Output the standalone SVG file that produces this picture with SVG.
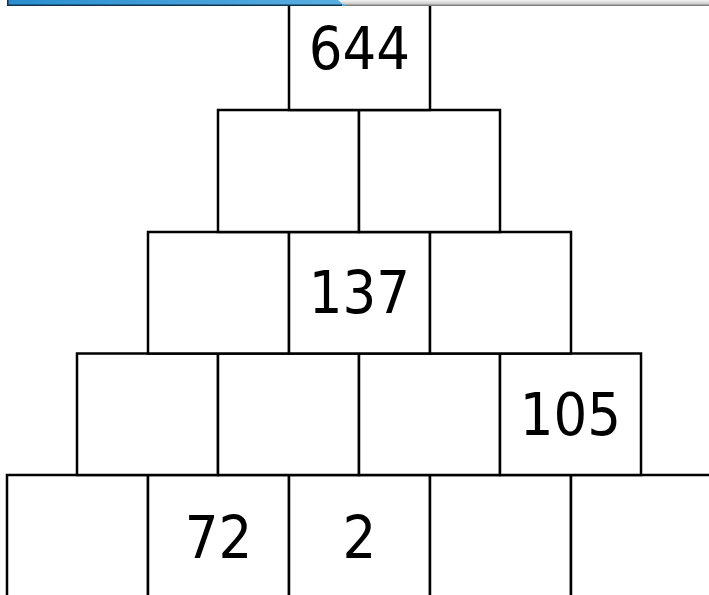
<svg xmlns="http://www.w3.org/2000/svg" width="709" height="595" viewBox="0 0 709 595">
<defs>
<linearGradient id="blue" x1="0" y1="0" x2="1" y2="0">
<stop offset="0" stop-color="#2a8fd0"/>
<stop offset="1" stop-color="#5aaee0"/>
</linearGradient>
<linearGradient id="gray" x1="0" y1="0" x2="0" y2="1">
<stop offset="0" stop-color="#f4f4f4"/>
<stop offset="0.6" stop-color="#cfcfcf"/>
<stop offset="1" stop-color="#6a6a6a"/>
</linearGradient>
</defs>
<style>
.b{fill:#fff;stroke:#000;stroke-width:2.5}
.t{font-family:"DejaVu Sans Condensed","DejaVu Sans",sans-serif;font-weight:300;font-size:59px;fill:#000;text-anchor:middle}
</style>
<rect width="709" height="595" fill="#fff"/>
<g id="row4">
<g id="r4c0"><rect class="b" x="7" y="475" width="141" height="130"/></g>
<g id="r4c1"><rect class="b" x="148" y="475" width="141" height="130"/><text class="t" x="218.5" y="558">72</text></g>
<g id="r4c2"><rect class="b" x="289" y="475" width="141" height="130"/><text class="t" x="359.5" y="558">2</text></g>
<g id="r4c3"><rect class="b" x="430" y="475" width="141" height="130"/></g>
<g id="r4c4"><rect class="b" x="571" y="475" width="141" height="130"/></g>
</g>
<g id="row3">
<g id="r3c0"><rect class="b" x="77" y="353.5" width="141" height="121.5"/></g>
<g id="r3c1"><rect class="b" x="218" y="353.5" width="141" height="121.5"/></g>
<g id="r3c2"><rect class="b" x="359" y="353.5" width="141" height="121.5"/></g>
<g id="r3c3"><rect class="b" x="500" y="353.5" width="141" height="121.5"/><text class="t" x="570.5" y="435">105</text></g>
</g>
<g id="row2">
<g id="r2c0"><rect class="b" x="148" y="232" width="141" height="121.5"/></g>
<g id="r2c1"><rect class="b" x="289" y="232" width="141" height="121.5"/><text class="t" x="359.5" y="313">137</text></g>
<g id="r2c2"><rect class="b" x="430" y="232" width="141" height="121.5"/></g>
</g>
<g id="row1">
<g id="r1c0"><rect class="b" x="218" y="110" width="141" height="122"/></g>
<g id="r1c1"><rect class="b" x="359" y="110" width="141" height="122"/></g>
</g>
<g id="row0">
<g id="r0c0"><rect class="b" x="289" y="-12" width="141" height="122"/><text class="t" x="359.5" y="69">644</text></g>
</g>
<g id="connectors"></g>
<g id="bar">
<rect x="330" y="0" width="379" height="6" fill="url(#gray)"/>
<path d="M8 0 H338 Q342 4 346 6 H8 Z" fill="url(#blue)"/>
<rect x="8" y="4.5" width="334" height="1.5" fill="#0d3550"/>
<rect x="7" y="0" width="1.5" height="6" fill="#0d3550"/>
</g>
</svg>
